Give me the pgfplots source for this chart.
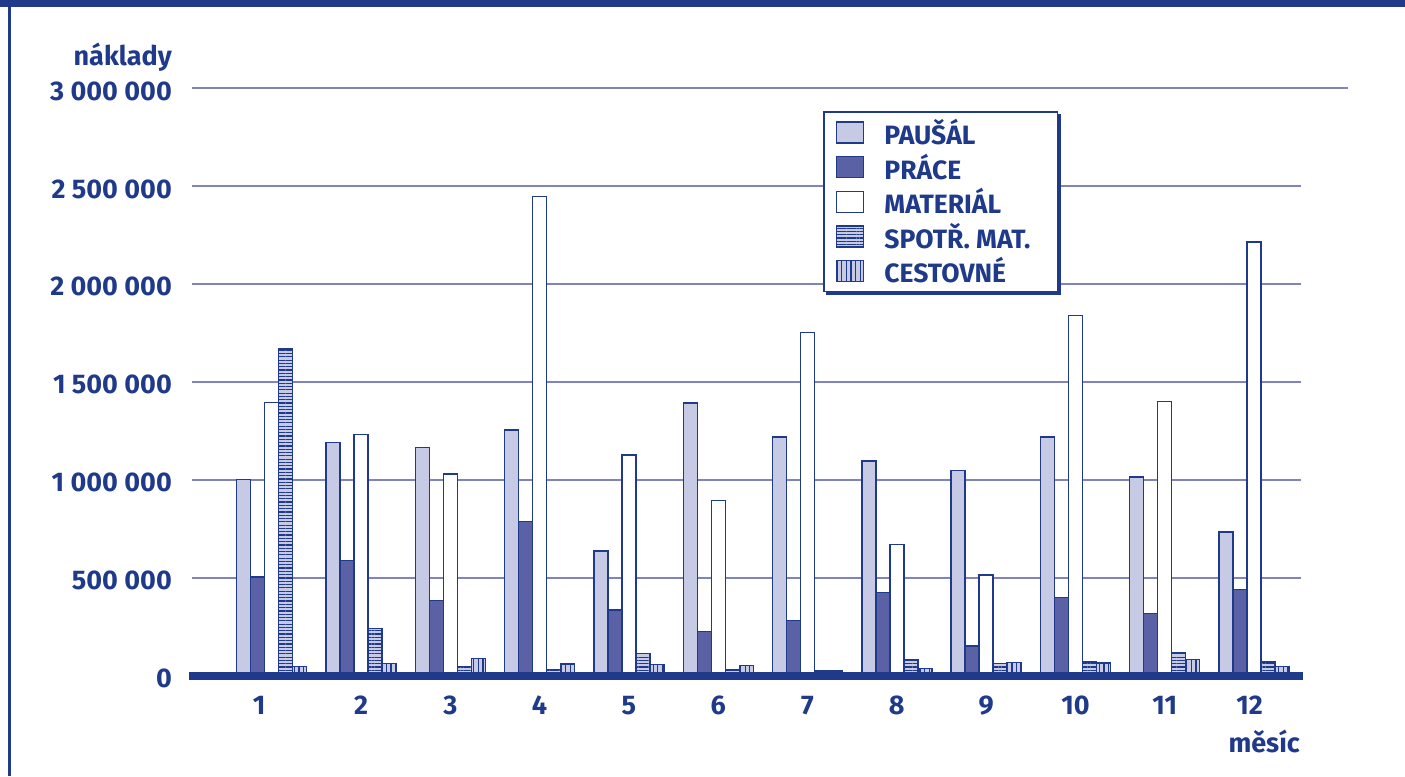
\documentclass[border=0pt]{standalone}
\usepackage{pgfplots}
\pgfplotsset{compat=1.18}
\usepackage{pgfplotstable}
\usetikzlibrary{patterns.meta}
\usepackage{fontspec}
\setmainfont{Fira Sans}

\definecolor{dblue}{HTML}{1F3A8B}
\definecolor{gridc}{HTML}{7F85BC}
\definecolor{lav}{HTML}{C7CAE4}
\definecolor{midb}{HTML}{5A62A5}
\newcommand\lab{\fontsize{27bp}{30bp}\selectfont\bfseries}

% naklady po mesicich
\pgfplotstableread{
m P R M S C
1  1000000 503000 1394000 1667000 46000
2  1191000 589000 1232000 242000  63000
3  1165000 383000 1029000 46000   87000
4  1254000 788000 2447000 33000   60000
5  636000  335000 1126000 112000  58000
6  1393000 226000 893000  29000   53000
7  1219000 281000 1753000 25000   25000
8  1095000 424000 670000  80000   36000
9  1048000 152000 514000  63000   68000
10 1218000 398000 1839000 70000   65000
11 1015000 318000 1401000 116000  84000
12 733000  441000 2213000 70000   46000
}\costs

\begin{document}
\begin{tikzpicture}[x=1bp,y=1bp]
\useasboundingbox (0,0) rectangle (1405,776);
\fill[dblue] (0,768.7) rectangle (1405,776);
\draw[dblue, line width=2.5bp] (9.5,0) -- (9.5,776);
\node[anchor=base east, text=dblue, font=\lab, inner sep=0pt] at (172,710.3) {náklady};
\node[anchor=base east, text=dblue, font=\lab, inner sep=0pt] at (1300,24) {měsíc};

\begin{axis}[
    at={(192bp,100.3bp)}, anchor=south west,
    scale only axis, width=1109bp, height=587.7bp,
    xmin=0.1075, xmax=12.526,
    ymin=0, ymax=3000000,
    clip=false,
    axis line style={draw=none},
    major tick length=0pt,
    ymajorgrids,
    grid style={gridc, line width=2bp},
    ytick={0,500000,1000000,1500000,2000000,2500000,3000000},
    yticklabels={0,500~000,1~000~000,1~500~000,2~000~000,2~500~000,\raisebox{-6bp}{3~000~000}},
    scaled y ticks=false,
    xtick={0.86,2,3,4,5,6,7,8,9,10,11,11.95},
    xticklabels={1,2,3,4,5,6,7,8,9,10,11,12},
    yticklabel style={anchor=east, inner sep=0pt, xshift=-20bp, yshift=-3bp, text=dblue, font=\lab},
    xticklabel style={anchor=north, inner sep=0pt, yshift=-20bp, text=dblue, font=\lab},
    ybar=0pt, bar width=14bp,
    every axis plot/.append style={draw=dblue, line width=1.4bp},
    legend image code/.code={\draw[#1, line width=1.4bp] (0bp,-10.5bp) rectangle (27bp,10.5bp);},
    legend cell align=left,
    legend style={name=leg, at={(0.5699,0.9592)}, anchor=north west,
        draw=dblue, line width=1.5bp, fill=white,
        inner xsep=12bp, inner ysep=5bp, outer sep=0pt,
        row sep=3.9bp,
        font=\fontsize{26.5bp}{28bp}\selectfont\bfseries, text=dblue,
        /tikz/every odd column/.append style={column sep=18bp}},
]
\addplot[fill=lav] table[x=m, y=P] {\costs};
\addplot[fill=midb] table[x=m, y=R] {\costs};
\addplot[fill=white] table[x=m, y=M] {\costs};
\addplot[fill=lav, postaction={pattern={Lines[angle=0, distance=3.3bp, line width=1.2bp]}, pattern color=dblue}] table[x=m, y=S] {\costs};
\addplot[fill=lav, postaction={pattern={Lines[angle=90, distance=4.6bp, line width=1.2bp]}, pattern color=dblue}] table[x=m, y=C] {\costs};
\legend{PAUŠÁL, PRÁCE, MATERIÁL, SPOTŘ. MAT.\kern13bp\null, CESTOVNÉ}
\draw[dblue, line width=8bp] ([xshift=-3bp]rel axis cs:0,0) -- ([xshift=2bp]rel axis cs:1,0);
\draw[gridc, line width=2bp] (rel axis cs:1,1) -- ++(57bp,0);
\end{axis}
% stin legendy
\fill[dblue] ([shift={(0.75bp,-2.25bp)}]leg.north east) rectangle ([shift={(3.75bp,-3.75bp)}]leg.south east);
\fill[dblue] ([shift={(2.25bp,-0.75bp)}]leg.south west) rectangle ([shift={(3.75bp,-3.75bp)}]leg.south east);
\end{tikzpicture}
\end{document}
